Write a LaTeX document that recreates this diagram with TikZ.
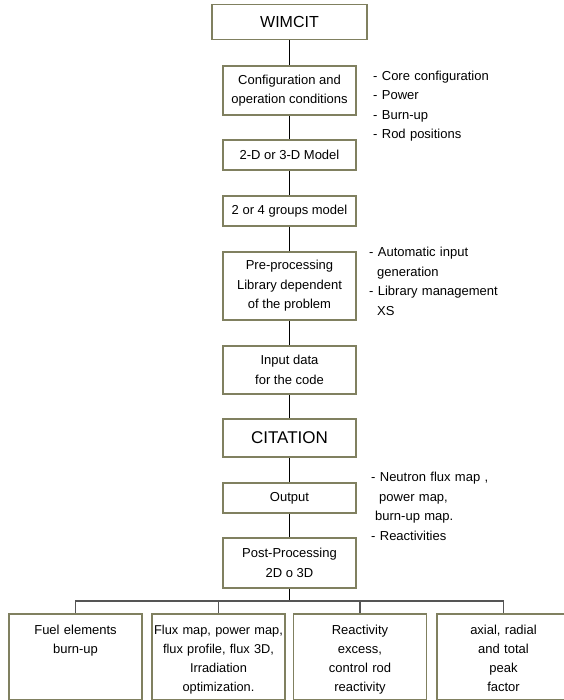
\documentclass[tikz,border=0pt]{standalone}
\usepackage{fontspec}
\setmainfont{Liberation Sans}
\definecolor{boxline}{RGB}{128,128,96}
\definecolor{busline}{RGB}{85,85,85}

\begin{document}
\begin{tikzpicture}
[x=1pt,y=-1pt,%
  box/.style={draw=boxline,line width=1.6pt,fill=white,inner sep=0pt,%
    minimum width=133pt,align=center,font=\fontsize{13}{19.5}\selectfont},%
  result/.style={box,anchor=north,text width=133pt,text height=20.5pt,%
    text depth=65.5pt,font=\fontsize{13}{19}\selectfont},%
  note/.style={anchor=base west,align=left,text width=170pt,inner sep=0pt,%
    font=\fontsize{13}{19.5}\selectfont},%
  link/.style={line width=1pt},%
  bus/.style={draw=busline,line width=1.5pt}]
\useasboundingbox (0,0) rectangle (563,700);

% main chain
\node[box,minimum width=155pt,minimum height=35pt,font=\fontsize{16}{18}\selectfont]
  (wimcit) at (289.5,22) {WIMCIT};
\node[box,minimum height=49pt] (config) at (289.5,90.5)
  {Configuration and\\operation conditions};
\node[box,minimum height=30pt] (model) at (289.5,155) {2-D or 3-D Model};
\node[box,minimum height=30pt] (groups) at (289.5,211) {2 or 4 groups model};
\node[box,minimum height=68pt] (prep) at (289.5,286)
  {Pre-processing\\Library dependent\\of the problem};
\node[box,minimum height=48pt] (input) at (289.5,370) {Input data\\for the code};
\node[box,minimum height=38pt,font=\fontsize{17}{19}\selectfont]
  (citation) at (289.5,438) {CITATION};
\node[box,minimum height=30pt] (output) at (289.5,498) {Output};
\node[box,minimum height=50pt] (post) at (289.5,563) {Post-Processing\\2D o 3D};

\foreach \a/\b in {wimcit/config,config/model,model/groups,groups/prep,%
    prep/input,input/citation,citation/output,output/post}
  \draw[link] (\a) -- (\b);

% notes
\node[note] (confnote) at (373,80.5)
  {- Core configuration\\- Power\\- Burn-up\\- Rod positions};
\node[note] (prepnote) at (369,256.5)
  {- Automatic input\\\hspace*{8pt}generation\\- Library management\\\hspace*{8pt}XS};
\node[note] (outnote) at (371,481.5)
  {- Neutron flux map ,\\\hspace*{8pt}power map,\\\hspace*{4pt}burn-up map.\\- Reactivities};

% results
\node[result] (burnup) at (75.5,613) {Fuel elements\\burn-up};
\node[result,font=\fontsize{12.8}{19}\selectfont] (fluxmap) at (218.5,613)
  {Flux map, power map,\\flux profile, flux 3D,\\Irradiation\\optimization.};
\node[result] (react) at (360,613)
  {Reactivity\\excess,\\control rod\\reactivity};
\node[result] (peak) at (503.5,613) {axial, radial\\and total\\peak\\factor};

\coordinate (split) at (289.5,601);
\draw[link] (post) -- (split);
\draw[bus] (burnup.north) |- (split) -| (peak.north);
\draw[bus] (fluxmap.north) -- (fluxmap.north |- split);
\draw[bus] (react.north) -- (react.north |- split);
\end{tikzpicture}
\end{document}
